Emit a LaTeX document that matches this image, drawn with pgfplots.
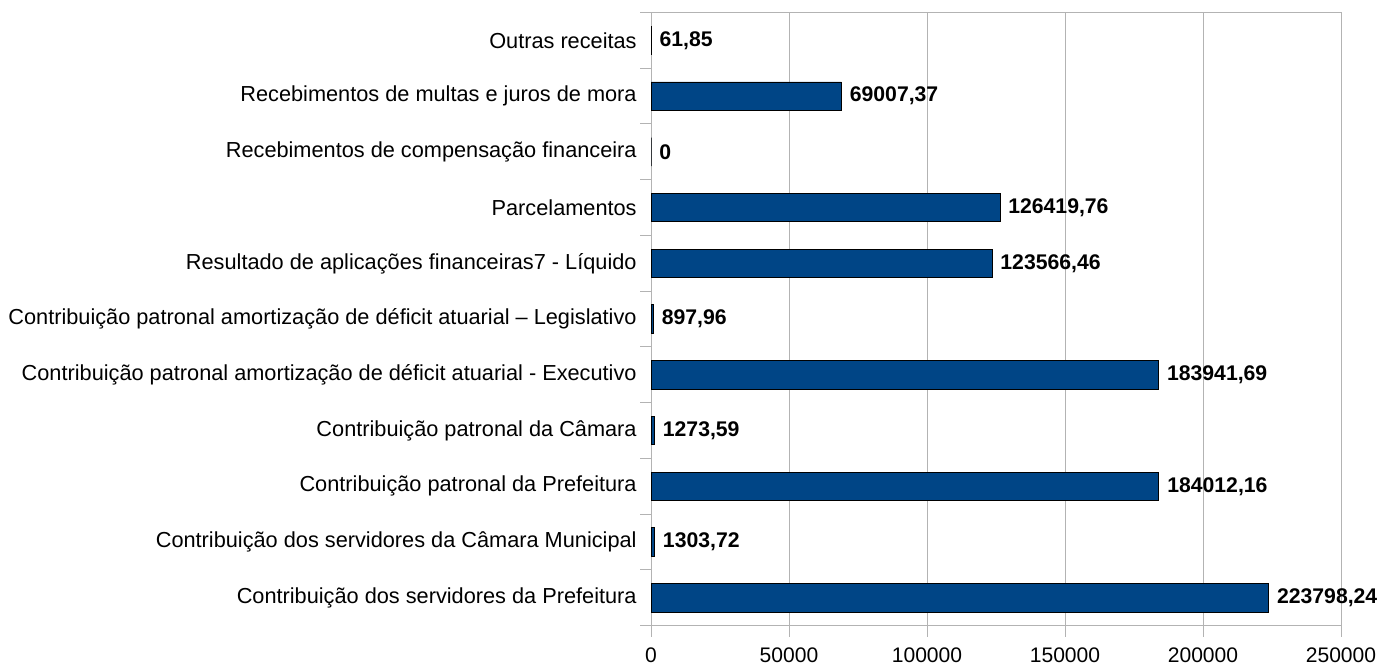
\documentclass[border=0pt]{standalone}
\usepackage{pgfplots}
\pgfplotsset{compat=1.18}
\usepackage{pgfplotstable}
\usepackage{fontspec}
\setmainfont{Liberation Sans}
\definecolor{barblue}{HTML}{004586}
\definecolor{gridgray}{HTML}{B3B3B3}
\pgfplotstableread{
y x label
0 223798.24 223798,24
1 1303.72 1303,72
2 184012.16 184012,16
3 1273.59 1273,59
4 183941.69 183941,69
5 897.96 897,96
6 123566.46 123566,46
7 126419.76 126419,76
8 0 0
9 69007.37 69007,37
10 61.85 61,85
}\datatable
\begin{document}
\begin{tikzpicture}
\path[use as bounding box] (0,0) rectangle (1046.25pt,501pt);
\begin{axis}[
  at={(488.25pt,31.73pt)}, anchor=south west,
  scale only axis, width=517.5pt, height=459.9pt,
  xmin=0, xmax=250000, ymin=-0.5, ymax=10.5,
  xtick={0,50000,100000,150000,200000,250000},
  xticklabels={0,50000,100000,150000,200000,250000},
  ytick={-0.5,0.5,...,10.5},
  y tick label as interval,
  yticklabels={Contribuição dos servidores da Prefeitura,
    Contribuição dos servidores da Câmara Municipal,
    Contribuição patronal da Prefeitura,
    Contribuição patronal da Câmara,
    Contribuição patronal amortização de déficit atuarial - Executivo,
    Contribuição patronal amortização de déficit atuarial – Legislativo,
    Resultado de aplicações financeiras7 - Líquido,
    Parcelamentos,
    Recebimentos de compensação financeira,
    Recebimentos de multas e juros de mora,
    Outras receitas},
  scaled x ticks=false,
  tick align=outside, tick pos=left,
  major tick length=8.25pt,
  tick style={gridgray, line width=0.75pt},
  axis line style={gridgray, line width=0.75pt},
  xmajorgrids, grid style={gridgray, line width=0.75pt},
  yticklabel style={font=\fontsize{16.3}{19}\selectfont, text=black, xshift=1pt},
  xticklabel style={font=\fontsize{15.8}{19}\selectfont, text=black, yshift=-5pt},
  xbar, bar width=21.3pt,
  point meta=explicit symbolic,
  nodes near coords,
  nodes near coords style={font=\fontsize{15.9}{19}\selectfont\bfseries, anchor=west, inner sep=0pt, xshift=6pt, text=black},
]
\addplot[fill=barblue, draw=black, line width=0.6pt] table[x=x, y=y, meta=label] {\datatable};
\end{axis}
\end{tikzpicture}
\end{document}
